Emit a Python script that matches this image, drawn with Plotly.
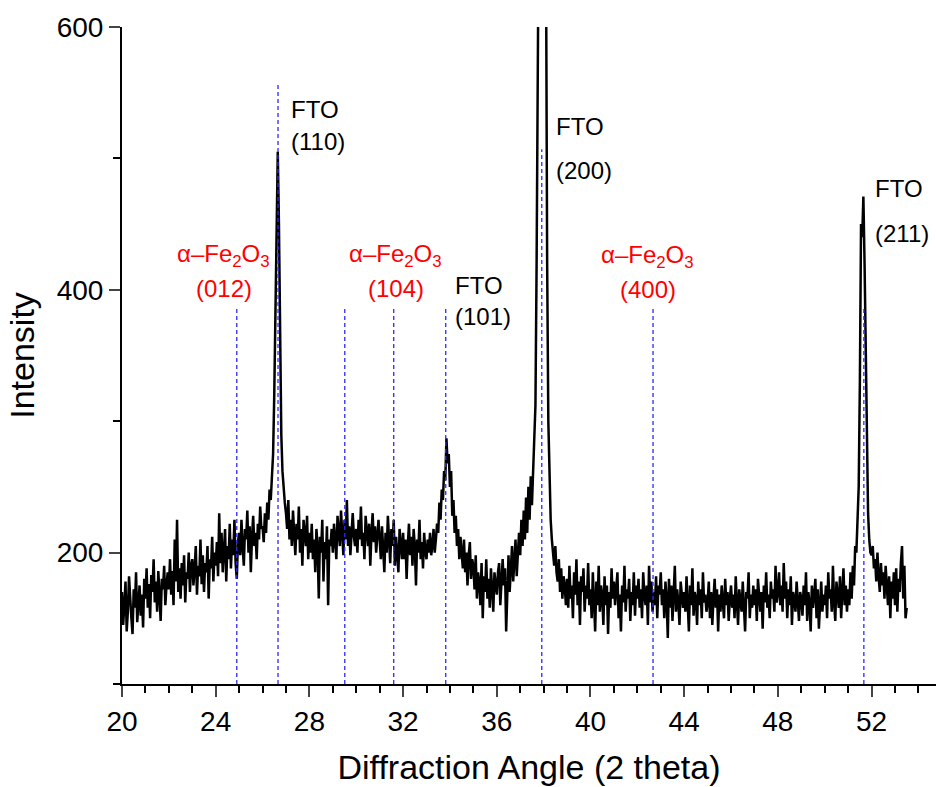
import numpy as np
import plotly.graph_objects as go

# ---- data ----
two_theta_start = 20.0
two_theta_step = 0.05
intensity = [
    # 20
    170, 145, 160, 178, 140, 155, 182, 163, 150, 138, 172, 158, 185, 147, 166, 175, 152, 168, 143, 180,
    # 21
    165, 188, 158, 176, 150, 183, 170, 195, 162, 178, 155, 186, 168, 148, 180, 172, 190, 160, 175, 185,
    # 22
    172, 195, 168, 186, 160, 210, 178, 225, 170, 188, 165, 192, 175, 198, 162, 185, 180, 200, 170, 190,
    # 23
    195, 175, 188, 205, 168, 190, 182, 210, 176, 198, 170, 192, 185, 205, 165, 195, 188, 212, 178, 200,
    # 24
    190, 208, 182, 230, 192, 215, 185, 200, 218, 178, 205, 195, 222, 188, 210, 198, 225, 192, 180, 208,
    # 25
    215, 198, 225, 205, 190, 218, 210, 232, 200, 220, 185, 212, 228, 205, 215, 195, 222, 210, 235, 218,
    # 26
    220, 208, 230, 215, 238, 225, 248, 240, 262, 275, 320, 380, 470, 505, 450, 360, 290, 262, 245, 238,
    # 27
    230, 218, 240, 210, 225, 205, 232, 215, 198, 222, 210, 235, 200, 218, 190, 225, 212, 205, 228, 195,
    # 28
    215, 200, 222, 195, 210, 185, 218, 205, 165, 212, 200, 225, 178, 208, 195, 220, 160, 210, 205, 218,
    # 29
    200, 222, 210, 195, 228, 215, 205, 232, 218, 198, 225, 210, 240, 205, 220, 198, 215, 230, 212, 205,
    # 30
    218, 200, 225, 210, 235, 205, 215, 195, 228, 212, 205, 222, 190, 215, 230, 208, 220, 200, 212, 225,
    # 31
    210, 195, 220, 205, 185, 215, 200, 228, 210, 192, 218, 205, 225, 190, 212, 200, 185, 218, 205, 195,
    # 32
    215, 195, 210, 180, 205, 222, 198, 212, 190, 218, 205, 175, 210, 200, 225, 195, 208, 188, 215, 200,
    # 33
    195, 210, 200, 215, 198, 205, 218, 200, 210, 222, 215, 238, 225, 248, 240, 262, 255, 287, 268, 275,
    # 34
    250, 262, 228, 240, 215, 228, 205, 218, 195, 212, 200, 188, 210, 185, 200, 175, 198, 208, 180, 195,
    # 35
    190, 172, 198, 165, 185, 178, 160, 192, 150, 182, 170, 195, 165, 180, 158, 188, 172, 155, 185, 178,
    # 36
    168, 185, 192, 160, 178, 195, 175, 188, 140, 180, 198, 170, 185, 205, 178, 192, 210, 182, 200, 215,
    # 37
    198, 225, 205, 232, 210, 242, 215, 250, 225, 258, 236, 262, 275, 312, 420, 600, 820, 1000, 1120, 1150,
    # 38
    1100, 900, 620, 420, 300, 245, 225, 210, 200, 190, 205, 185, 178, 195, 170, 188, 165, 182, 175, 160,
    # 39
    180, 158, 190, 165, 175, 150, 185, 168, 195, 160, 178, 145, 182, 170, 188, 155, 175, 165, 192, 160,
    # 40
    172, 150, 185, 165, 140, 178, 160, 190, 155, 175, 168, 145, 182, 160, 175, 138, 170, 158, 188, 165,
    # 41
    178, 160, 172, 185, 150, 168, 140, 175, 162, 190, 155, 172, 165, 180, 148, 170, 160, 185, 152, 175,
    # 42
    165, 180, 158, 172, 150, 185, 168, 160, 175, 145, 190, 162, 178, 155, 170, 160, 182, 150, 175, 168,
    # 43
    185, 160, 172, 150, 178, 165, 135, 180, 158, 175, 148, 168, 190, 155, 172, 162, 145, 178, 165, 158,
    # 44
    170, 155, 182, 165, 140, 175, 160, 188, 152, 170, 165, 145, 178, 160, 172, 150, 185, 162, 168, 155,
    # 45
    162, 178, 150, 170, 145, 165, 180, 158, 172, 140, 168, 155, 175, 162, 150, 180, 160, 170, 148, 165,
    # 46
    175, 158, 168, 150, 182, 162, 145, 172, 165, 155, 178, 160, 140, 170, 165, 185, 150, 168, 158, 175,
    # 47
    160, 172, 148, 180, 165, 155, 170, 142, 175, 162, 185, 158, 168, 150, 178, 165, 172, 155, 190, 162,
    # 48
    170, 185, 160, 175, 155, 192, 165, 178, 150, 172, 160, 182, 145, 170, 165, 155, 178, 162, 148, 170,
    # 49
    165, 152, 175, 160, 185, 148, 170, 162, 140, 175, 158, 168, 180, 150, 172, 142, 165, 178, 155, 168,
    # 50
    160, 175, 150, 185, 165, 172, 155, 190, 162, 148, 178, 165, 158, 182, 150, 170, 188, 160, 175, 155,
    # 51
    172, 160, 185, 165, 190, 175, 205, 200, 225, 250, 330, 450, 440, 471, 420, 340, 270, 230, 210, 200,
    # 52
    198, 205, 188, 195, 178, 200, 182, 170, 192, 175, 185, 165, 190, 172, 160, 182, 150, 178, 165, 185,
    # 53
    160, 188, 155, 180, 170, 192, 205, 165, 190, 150, 158,
]
two_theta = np.round(two_theta_start + two_theta_step * np.arange(len(intensity)), 2)

# reference peak positions (dashed markers) and their heights
ref_angles = [24.90, 26.66, 29.51, 31.60, 33.82, 37.92, 42.67, 51.67]
ref_tops = [386, 556, 386, 386, 386, 507, 386, 386]

# peak labels
label_text = ["FTO", "(110)", "FTO", "(200)", "FTO", "(211)", "FTO", "(101)",
              "α–Fe<sub>2</sub>O<sub>3</sub>", "(012)",
              "α–Fe<sub>2</sub>O<sub>3</sub>", "(104)",
              "α–Fe<sub>2</sub>O<sub>3</sub>", "(400)"]
label_x = [27.14, 27.14, 38.44, 38.44, 52.04, 52.04, 34.12, 34.12,
           24.35, 24.35, 31.68, 31.68, 42.45, 42.45]
label_y = [537, 513, 524, 491, 477, 443, 403, 380,
           426, 401, 426, 401, 425, 400]
label_color = ["black"] * 8 + ["red"] * 6
label_anchor = ["left"] * 8 + ["center"] * 6

FONT = "Liberation Sans, Arial, sans-serif"

fig = go.Figure()
fig.add_trace(go.Scatter(x=two_theta, y=intensity, mode="lines",
                         line=dict(color="black", width=2.5), showlegend=False))

for a, t in zip(ref_angles, ref_tops):
    fig.add_shape(type="line", xref="x", yref="y", x0=a, x1=a, y0=100, y1=t,
                  line=dict(color="#2a2aff", width=1.3, dash="4px,3px"), layer="above")

for txt, x, y, c, anc in zip(label_text, label_x, label_y, label_color, label_anchor):
    fig.add_annotation(x=x, y=y, xref="x", yref="y", text=txt, showarrow=False,
                       xanchor=anc, yanchor="middle",
                       font=dict(family=FONT, size=24, color=c))

fig.update_layout(
    width=936, height=787,
    margin=dict(l=122, r=0, t=27, b=103),
    plot_bgcolor="white", paper_bgcolor="white",
    font=dict(family=FONT, color="black"),
)
fig.update_xaxes(
    range=[20, 54.75], tick0=20, dtick=4, ticks="outside", ticklen=11, tickwidth=2,
    showline=True, linecolor="black", linewidth=2, showgrid=False, zeroline=False,
    tickfont=dict(size=28),
    minor=dict(dtick=1, ticks="outside", ticklen=7, tickwidth=2, tickcolor="black"),
    title=dict(text="Diffraction Angle (2 theta)", font=dict(size=34), standoff=20),
)
fig.update_yaxes(
    range=[100, 600], tick0=0, dtick=200, ticks="outside", ticklen=11, tickwidth=2,
    showline=True, linecolor="black", linewidth=2, showgrid=False, zeroline=False,
    tickfont=dict(size=28),
    minor=dict(dtick=100, ticks="outside", ticklen=7, tickwidth=2, tickcolor="black"),
    title=dict(text="Intensity", font=dict(size=34), standoff=12),
)

fig.write_html("out.html")
